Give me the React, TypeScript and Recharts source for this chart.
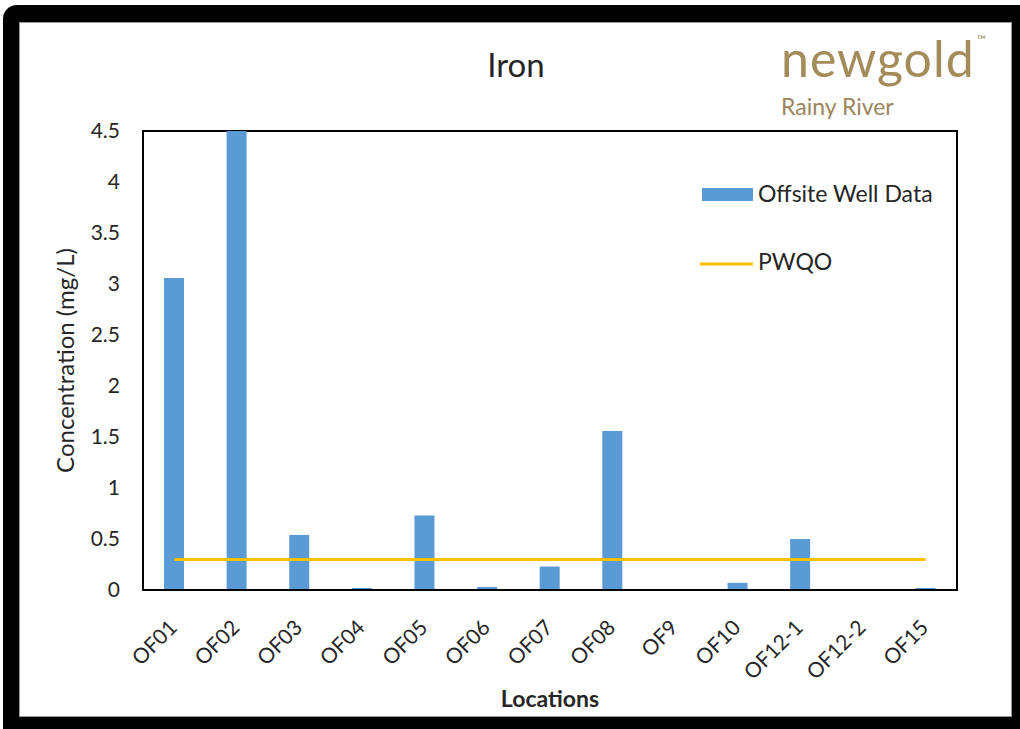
import React from 'react';
import { ComposedChart, Bar, Line, XAxis, YAxis, Label, ReferenceArea } from 'recharts';

const categories = ['OF01', 'OF02', 'OF03', 'OF04', 'OF05', 'OF06', 'OF07', 'OF08', 'OF9', 'OF10', 'OF12-1', 'OF12-2', 'OF15'];
const ironValues = [3.06, 4.5, 0.54, 0.02, 0.73, 0.03, 0.23, 1.56, 0, 0.07, 0.5, 0, 0.02];
const pwqoValues = [0.3, 0.3, 0.3, 0.3, 0.3, 0.3, 0.3, 0.3, 0.3, 0.3, 0.3, 0.3, 0.3];
const yTicks = [0, 0.5, 1, 1.5, 2, 2.5, 3, 3.5, 4, 4.5];
const seriesNames = ['Offsite Well Data', 'PWQO'];

const data = categories.map((c, i) => ({ name: c, iron: ironValues[i], pwqo: pwqoValues[i] }));

const FONT = 'Lato, "Open Sans", sans-serif';
const TEXT = '#262626';
const BLUE = '#5B9BD5';
const GOLD = '#FFC000';

const XTick = (props: any) => {
  const { x, y, payload } = props;
  return (
    <text
      transform={`translate(${x + 4},${y + 39}) rotate(-45)`}
      textAnchor="end"
      fontFamily={FONT}
      fontSize={21}
      fill={TEXT}
    >
      {payload.value}
    </text>
  );
};

export default function App() {
  return (
    <div style={{ position: 'relative', width: 1020, height: 729, overflow: 'hidden', fontFamily: FONT }}>
      <style>{`body{margin:0}`}</style>
      <div style={{ position: 'absolute', left: 3, top: 5, width: 1040, height: 760, background: '#000', borderTopLeftRadius: 14 }} />
      <div style={{ position: 'absolute', left: 19, top: 22, width: 993, height: 695, background: '#fff', boxShadow: 'inset 0 0 0 1px #999' }} />
      <div style={{ position: 'absolute', left: 0, top: 0 }}>
        <ComposedChart
          width={1020}
          height={729}
          data={data}
          margin={{ top: 131, right: 63, bottom: 14, left: 43 }}
        >
          <XAxis
            xAxisId="bottom"
            dataKey="name"
            height={125}
            tickLine={false}
            tickSize={0}
            tickMargin={0}
            interval={0}
            axisLine={{ stroke: '#000', strokeWidth: 2 }}
            tick={<XTick />}
          >
            <Label
              value="Locations"
              position="insideBottom"
              offset={8}
              style={{ fontFamily: FONT, fontSize: 23, fontWeight: 700, fill: TEXT }}
            />
          </XAxis>
          <YAxis
            yAxisId="left"
            width={100}
            domain={[0, 4.5]}
            ticks={yTicks}
            tickLine={false}
            tickSize={0}
            tickMargin={23}
            axisLine={{ stroke: '#000', strokeWidth: 2 }}
            tick={{ fontFamily: FONT, fontSize: 21, fill: TEXT }}
            allowDataOverflow
          >
            <Label
              value="Concentration (mg/L)"
              angle={-90}
              position="insideLeft"
              offset={22}
              style={{ fontFamily: FONT, fontSize: 24, fill: TEXT, textAnchor: 'middle' }}
            />
          </YAxis>
          <Bar
            xAxisId="bottom"
            yAxisId="left"
            dataKey="iron"
            name={seriesNames[0]}
            fill={BLUE}
            barSize={20}
            isAnimationActive={false}
          />
          <Line
            xAxisId="bottom"
            yAxisId="left"
            dataKey="pwqo"
            name={seriesNames[1]}
            stroke={GOLD}
            strokeWidth={3}
            dot={false}
            activeDot={false}
            isAnimationActive={false}
          />
          <ReferenceArea
            xAxisId="bottom"
            yAxisId="left"
            y1={0}
            y2={4.5}
            fill="none"
            fillOpacity={0}
            stroke="#000"
            strokeWidth={2}
            ifOverflow="visible"
          />
        </ComposedChart>
      </div>
      <svg width={1020} height={729} style={{ position: 'absolute', left: 0, top: 0, pointerEvents: 'none' }}>
        <text x={516} y={77} textAnchor="middle" fontFamily={FONT} fontSize={33} fill={TEXT}>Iron</text>
        <text x={781} y={77} fontFamily={FONT} fontWeight={400} fontSize={50} letterSpacing={1} fill="#A38B5A">newgold</text>
        <text x={977} y={44} fontFamily={FONT} fontSize={12} fill="#A38B5A">™</text>
        <text x={781} y={115} fontFamily={FONT} fontSize={23} fill="#9A8660">Rainy River</text>
        <g transform="translate(700,170)">
          <rect x={2} y={18} width={51} height={13} fill={BLUE} />
          <text x={58} y={32} fontFamily={FONT} fontSize={23} fill={TEXT}>{seriesNames[0]}</text>
          <line x1={0} x2={53} y1={94} y2={94} stroke={GOLD} strokeWidth={3} />
          <text x={58} y={100} fontFamily={FONT} fontSize={23} fill={TEXT}>{seriesNames[1]}</text>
        </g>
      </svg>
    </div>
  );
}
